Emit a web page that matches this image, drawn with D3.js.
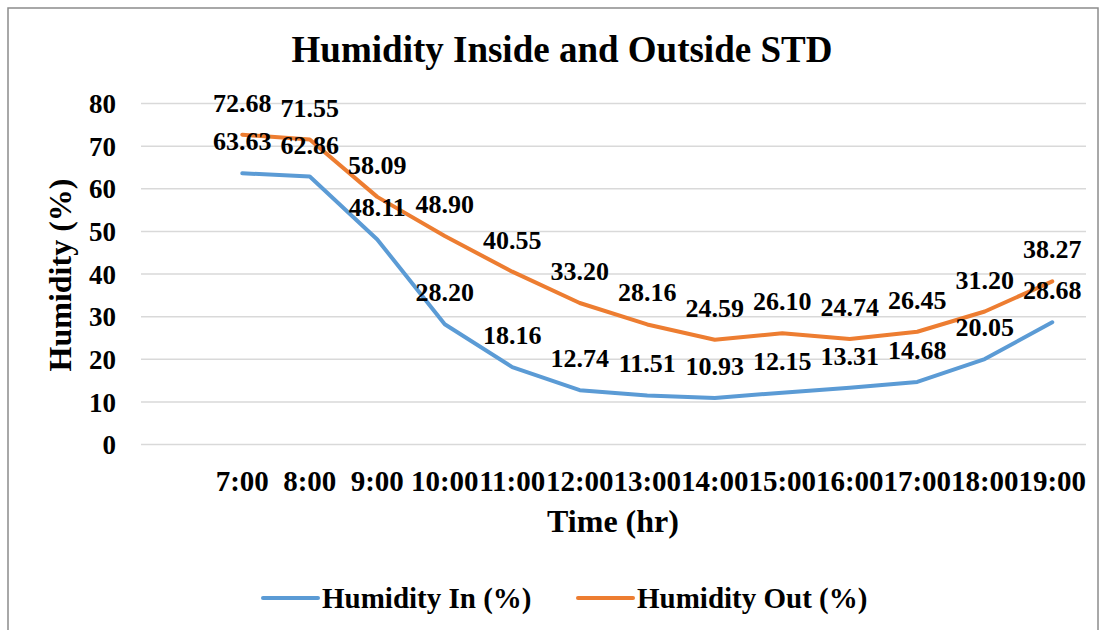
<!DOCTYPE html>
<html><head><meta charset="utf-8">
<script src="https://cdn.jsdelivr.net/npm/d3@7"></script>
<style>
body{margin:0;background:#fff;}
text{font-family:"Liberation Serif","Times New Roman",serif;font-weight:bold;fill:#000;}
</style></head>
<body><svg id="c" width="1104" height="630"></svg>
<script>
const categories = ["7:00","8:00","9:00","10:00","11:00","12:00","13:00","14:00","15:00","16:00","17:00","18:00","19:00"];
const humidityIn = [63.63,62.86,48.11,28.20,18.16,12.74,11.51,10.93,12.15,13.31,14.68,20.05,28.68];
const humidityOut = [72.68,71.55,58.09,48.90,40.55,33.20,28.16,24.59,26.10,24.74,26.45,31.20,38.27];
const yTicks = [0,10,20,30,40,50,60,70,80];
const seriesNames = ["Humidity In (%)","Humidity Out (%)"];
const colors = ["#5B9BD5","#ED7D31"];

const svg = d3.select("#c");
svg.append("rect").attr("x",8).attr("y",8).attr("width",1090).attr("height",640)
  .attr("fill","#fff").attr("stroke","#8c8c8c").attr("stroke-width",1.5);

const pLeft=141, pRight=1086, pTop=103.5, pBottom=444.5;
// band domain has a leading empty slot, as in the source chart
const x = d3.scaleBand().domain(["_blank"].concat(categories)).range([pLeft,pRight]).padding(0);
const y = d3.scaleLinear().domain([0,80]).range([pBottom,pTop]);
const cx = c => x(c)+x.bandwidth()/2;

// title
svg.append("text").attr("x",562).attr("y",62).attr("text-anchor","middle")
  .style("font-size","37px").text("Humidity Inside and Outside STD");

// gridlines
svg.append("g").selectAll("line").data(yTicks).join("line")
  .attr("x1",pLeft).attr("x2",pRight).attr("y1",d=>y(d)).attr("y2",d=>y(d))
  .attr("stroke","#d9d9d9").attr("stroke-width",1.5);

// y axis labels
const yAxis = d3.axisLeft(y).tickValues(yTicks).tickSize(0).tickPadding(0).tickFormat(d3.format("d"));
const gy = svg.append("g").attr("transform",`translate(${116},0)`).call(yAxis);
gy.select(".domain").remove();
gy.selectAll("text").style("font-size","27px").attr("dy","0.34em");

// x axis labels
const xAxis = d3.axisBottom(x).tickValues(categories).tickSize(0).tickPadding(0);
const gx = svg.append("g").attr("transform",`translate(0,${468})`).call(xAxis);
gx.select(".domain").remove();
gx.selectAll("text").style("font-size","29px").attr("dy","0.78em");

// axis titles
svg.append("text").attr("x",613).attr("y",532).attr("text-anchor","middle")
  .style("font-size","32px").text("Time (hr)");
svg.append("text").attr("transform","translate(71,275) rotate(-90)").attr("text-anchor","middle")
  .style("font-size","32px").text("Humidity (%)");

// lines
const line = d3.line().x((d,i)=>cx(categories[i])).y(d=>y(d));
[humidityIn, humidityOut].forEach((s,k)=>{
  svg.append("path").datum(s).attr("d",line).attr("fill","none")
    .attr("stroke",colors[k]).attr("stroke-width",4).attr("stroke-linejoin","round").attr("stroke-linecap","round");
});
// labels
[humidityIn, humidityOut].forEach((s,k)=>{
  svg.append("g").selectAll("text").data(s).join("text")
    .attr("x",(d,i)=>cx(categories[i])).attr("y",d=>y(d)-23)
    .attr("text-anchor","middle").style("font-size","26px").text(d=>d.toFixed(2));
});

// legend
const legX = [263,578];
seriesNames.forEach((n,k)=>{
  svg.append("line").attr("x1",legX[k]).attr("x2",legX[k]+55).attr("y1",598).attr("y2",598)
    .attr("stroke",colors[k]).attr("stroke-width",4).attr("stroke-linecap","round");
  svg.append("text").attr("x",legX[k]+59).attr("y",608).style("font-size","29px").text(n);
});
</script></body></html>
